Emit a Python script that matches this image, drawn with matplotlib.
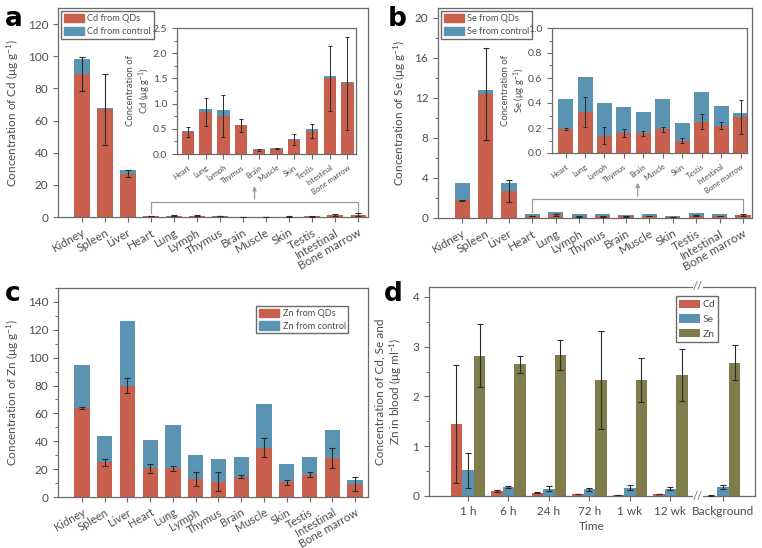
import matplotlib
matplotlib.use("Agg")
import matplotlib.pyplot as plt
import numpy as np
from matplotlib.ticker import MultipleLocator

plt.rcParams['font.family'] = ['Lato', 'DejaVu Sans']
plt.rcParams['mathtext.fontset'] = 'custom'
plt.rcParams['mathtext.rm'] = 'Lato'
plt.rcParams['mathtext.it'] = 'Lato:italic'

# ---- data ----
organs = ["Kidney", "Spleen", "Liver", "Heart", "Lung", "Lymph", "Thymus",
          "Brain", "Muscle", "Skin", "Testis", "Intestinal", "Bone marrow"]
inset_organs = organs[3:]

cd_qd   = [89, 67, 27, 0.44, 0.83, 0.75, 0.57, 0.07, 0.10, 0.28, 0.45, 1.50, 1.40]
cd_ctrl = [9.5, 0.5, 2.0, 0.02, 0.06, 0.13, 0.01, 0.02, 0.02, 0.01, 0.04, 0.05, 0.02]
cd_err  = [10.5, 22, 2.3, 0.10, 0.28, 0.42, 0.13, 0.02, 0.01, 0.11, 0.14, 0.65, 0.93]

se_qd   = [1.8, 12.4, 2.7, 0.19, 0.33, 0.14, 0.16, 0.16, 0.19, 0.10, 0.25, 0.22, 0.29]
se_ctrl = [1.7, 0.4, 0.8, 0.24, 0.28, 0.26, 0.21, 0.17, 0.24, 0.14, 0.24, 0.16, 0.03]
se_err  = [0.05, 4.6, 1.1, 0.008, 0.12, 0.07, 0.03, 0.02, 0.02, 0.02, 0.06, 0.03, 0.135]

zn_qd   = [64, 25, 80, 20.5, 20.5, 13, 11, 14.5, 35.5, 10.5, 16, 28, 9.5]
zn_ctrl = [31, 19, 46, 20.5, 31.5, 17, 16.5, 14.5, 31.5, 13, 13, 20, 3]
zn_err  = [0.7, 2.5, 5.5, 3, 1.5, 5, 7, 1, 6.5, 2, 2, 7.5, 5]

times = ["1 h", "6 h", "24 h", "72 h", "1 wk", "12 wk", "Background"]
blood_cd = [1.45, 0.10, 0.07, 0.04, 0.02, 0.04, 0.01]
blood_cd_err = [1.19, 0.02, 0.01, 0.005, 0.005, 0.005, 0.003]
blood_se = [0.52, 0.18, 0.15, 0.14, 0.17, 0.15, 0.18]
blood_se_err = [0.35, 0.02, 0.045, 0.03, 0.045, 0.025, 0.035]
blood_zn = [2.82, 2.65, 2.83, 2.33, 2.33, 2.43, 2.68]
blood_zn_err = [0.63, 0.17, 0.30, 0.98, 0.45, 0.52, 0.35]

RED = '#c8604d'
BLUE = '#5b93b2'
OLIVE = '#7f7d4c'
TXT = '#4d4d4d'
SPN = '#6b6b6b'
ERR = '#2a2a2a'


def style(ax, fs=8):
    for s in ax.spines.values():
        s.set_color(SPN)
        s.set_linewidth(0.9)
    ax.tick_params(direction='out', colors=SPN, labelcolor=TXT, labelsize=fs,
                   length=3.5, width=0.8)
    ax.tick_params(which='minor', direction='out', colors=SPN, length=2, width=0.7)


def stacked(ax, x, qd, ctrl, err, width, names, fs, rot=30, cap=2, elw=0.8):
    ax.bar(x, qd, width, color=RED, zorder=2)
    ax.bar(x, ctrl, width, bottom=qd, color=BLUE, zorder=2)
    ax.errorbar(x, qd, yerr=err, fmt='none', ecolor=ERR, elinewidth=elw,
                capsize=cap, capthick=elw, zorder=3)
    ax.set_xticks(x)
    ax.set_xticklabels(names, rotation=rot, ha='right', rotation_mode='anchor',
                       fontsize=fs, color=TXT)
    style(ax, fs)


def two_legend(ax, name, **kw):
    h = [plt.Rectangle((0, 0), 1, 1, color=RED), plt.Rectangle((0, 0), 1, 1, color=BLUE)]
    ax.legend(handles=h, labels=[name + ' from QDs', name + ' from control'],
              fontsize=6.6, frameon=True, fancybox=False, edgecolor=SPN,
              handlelength=2.2, handleheight=1.0, labelcolor=TXT, borderpad=0.3,
              handletextpad=0.35, labelspacing=0.4, framealpha=1, **kw)


fig = plt.figure(figsize=(7.62, 5.48), dpi=100)
W, H = 762.0, 548.0


def box(l, r, t, b):
    return [l / W, (H - b) / H, (r - l) / W, (b - t) / H]


x13 = np.arange(len(organs))
x10 = np.arange(len(inset_organs))

# ---- panel a ----
axa = fig.add_axes(box(58, 368, 8, 217))
stacked(axa, x13, cd_qd, cd_ctrl, cd_err, 0.66, organs, 8.5)
axa.set_xlim(-1.04, 12.43)
axa.set_ylim(0, 130)
axa.yaxis.set_major_locator(MultipleLocator(20))
axa.set_ylabel(r'Concentration of Cd (μg g$^{-1}$)', fontsize=8.5, color=TXT, labelpad=5)
two_legend(axa, 'Cd', loc='upper left', borderaxespad=0.35)
axa.plot([3, 3, 12, 12], [2.5, 9.4, 9.4, 2.5], color='#9a9a9a', lw=0.9, zorder=1)
axa.annotate('', xy=(7.5, 21), xytext=(7.5, 9.4),
             arrowprops=dict(arrowstyle='-|>', color='#9a9a9a', lw=0.9, mutation_scale=6))

ia = fig.add_axes(box(177, 356, 28, 154))
stacked(ia, x10, cd_qd[3:], cd_ctrl[3:], cd_err[3:], 0.7, inset_organs, 5.5,
        rot=35, cap=1.5, elw=0.7)
ia.set_xlim(-0.61, 9.48)
ia.set_ylim(0, 2.5)
ia.set_yticks(np.arange(0, 2.51, 0.5))
ia.set_yticklabels(['%.1f' % v for v in np.arange(0, 2.51, 0.5)], fontsize=7.5)
ia.yaxis.set_minor_locator(MultipleLocator(0.25))
ia.set_ylabel('Concentration of\n' + r'Cd (μg g$^{-1}$)', fontsize=6.8, color=TXT,
              labelpad=0, linespacing=1.1)

# ---- panel b ----
axb = fig.add_axes(box(438, 752, 8, 218))
stacked(axb, x13, se_qd, se_ctrl, se_err, 0.65, organs, 8.5)
axb.set_xlim(-1.03, 12.38)
axb.set_ylim(0, 21)
axb.yaxis.set_major_locator(MultipleLocator(4))
axb.yaxis.set_minor_locator(MultipleLocator(2))
axb.set_ylabel(r'Concentration of Se (μg g$^{-1}$)', fontsize=8.5, color=TXT, labelpad=5)
two_legend(axb, 'Se', loc='upper left', borderaxespad=0.35)
axb.plot([3, 3, 12, 12], [0.6, 1.9, 1.9, 0.6], color='#9a9a9a', lw=0.9, zorder=1)
axb.annotate('', xy=(7.5, 3.8), xytext=(7.5, 1.9),
             arrowprops=dict(arrowstyle='-|>', color='#9a9a9a', lw=0.9, mutation_scale=6))

ib = fig.add_axes(box(552, 747, 28, 153))
stacked(ib, x10, se_qd[3:], se_ctrl[3:], se_err[3:], 0.77, inset_organs, 5.5,
        rot=35, cap=1.5, elw=0.7)
ib.set_xlim(-0.7, 9.33)
ib.set_ylim(0, 1.0)
ib.set_yticks(np.arange(0, 1.01, 0.2))
ib.set_yticklabels(['%.1f' % v for v in np.arange(0, 1.01, 0.2)], fontsize=7.5)
ib.yaxis.set_minor_locator(MultipleLocator(0.1))
ib.set_ylabel('Concentration of\n' + r'Se (μg g$^{-1}$)', fontsize=6.8, color=TXT,
              labelpad=0, linespacing=1.1)

# ---- panel c ----
axc = fig.add_axes(box(58, 368, 288, 497))
stacked(axc, x13, zn_qd, zn_ctrl, zn_err, 0.67, organs, 8)
axc.tick_params(axis='y', labelsize=8.5)
axc.set_xlim(-1.05, 12.57)
axc.set_ylim(0, 150)
axc.yaxis.set_major_locator(MultipleLocator(20))
axc.yaxis.set_minor_locator(MultipleLocator(10))
axc.set_ylabel(r'Concentration of Zn (μg g$^{-1}$)', fontsize=8.5, color=TXT, labelpad=5)
two_legend(axc, 'Zn', loc='upper right', bbox_to_anchor=(0.937, 0.915),
           borderaxespad=0)

# ---- panel d ----
axd = fig.add_axes(box(429, 755, 287, 496))
xd = np.array([0, 1, 2, 3, 4, 5, 6.3])
bw = 0.285
axd.bar(xd - bw, blood_cd, bw, color=RED, label='Cd', zorder=2)
axd.bar(xd, blood_se, bw, color=BLUE, label='Se', zorder=2)
axd.bar(xd + bw, blood_zn, bw, color=OLIVE, label='Zn', zorder=2)
axd.errorbar(xd - bw, blood_cd, yerr=blood_cd_err, fmt='none', ecolor=ERR,
             elinewidth=0.8, capsize=2, capthick=0.8, zorder=3)
axd.errorbar(xd, blood_se, yerr=blood_se_err, fmt='none', ecolor=ERR,
             elinewidth=0.8, capsize=2, capthick=0.8, zorder=3)
axd.errorbar(xd + bw, blood_zn, yerr=blood_zn_err, fmt='none', ecolor=ERR,
             elinewidth=0.8, capsize=2, capthick=0.8, zorder=3)
axd.set_xticks(xd)
axd.set_xticklabels(times, fontsize=8.5, color=TXT)
style(axd, 8.5)
axd.set_xlim(-0.963, 7.09)
axd.set_ylim(0, 4.2)
axd.yaxis.set_major_locator(MultipleLocator(1))
axd.yaxis.set_minor_locator(MultipleLocator(0.5))
axd.set_xlabel('Time', fontsize=8.5, color=TXT, labelpad=3)
axd.set_ylabel('Concentration of Cd, Se and\n' + r'Zn in blood (μg ml$^{-1}$)',
               fontsize=8.5, color=TXT, labelpad=6, linespacing=1.2)
axd.legend(loc='upper right', fontsize=7.5, frameon=True, fancybox=False,
           edgecolor=SPN, handlelength=2.0, handleheight=0.9, labelcolor=TXT,
           bbox_to_anchor=(0.887, 0.955), borderaxespad=0, borderpad=0.3,
           labelspacing=0.45, handletextpad=0.2, framealpha=1)
for yy in (0, 1):
    axd.text(5.68, yy * 4.2, '//', fontsize=8, color=SPN, ha='center', va='center',
             clip_on=False, zorder=5,
             bbox=dict(facecolor='white', edgecolor='none', pad=0.2))

# panel letters
for lbl, px, py in [('a', 5, 6), ('b', 388, 6), ('c', 5, 281), ('d', 384, 281)]:
    fig.text(px / W, 1 - py / H, lbl, fontsize=19, fontweight='bold', va='top',
             ha='left', family='DejaVu Sans')

fig.savefig('out.png', dpi=100)
